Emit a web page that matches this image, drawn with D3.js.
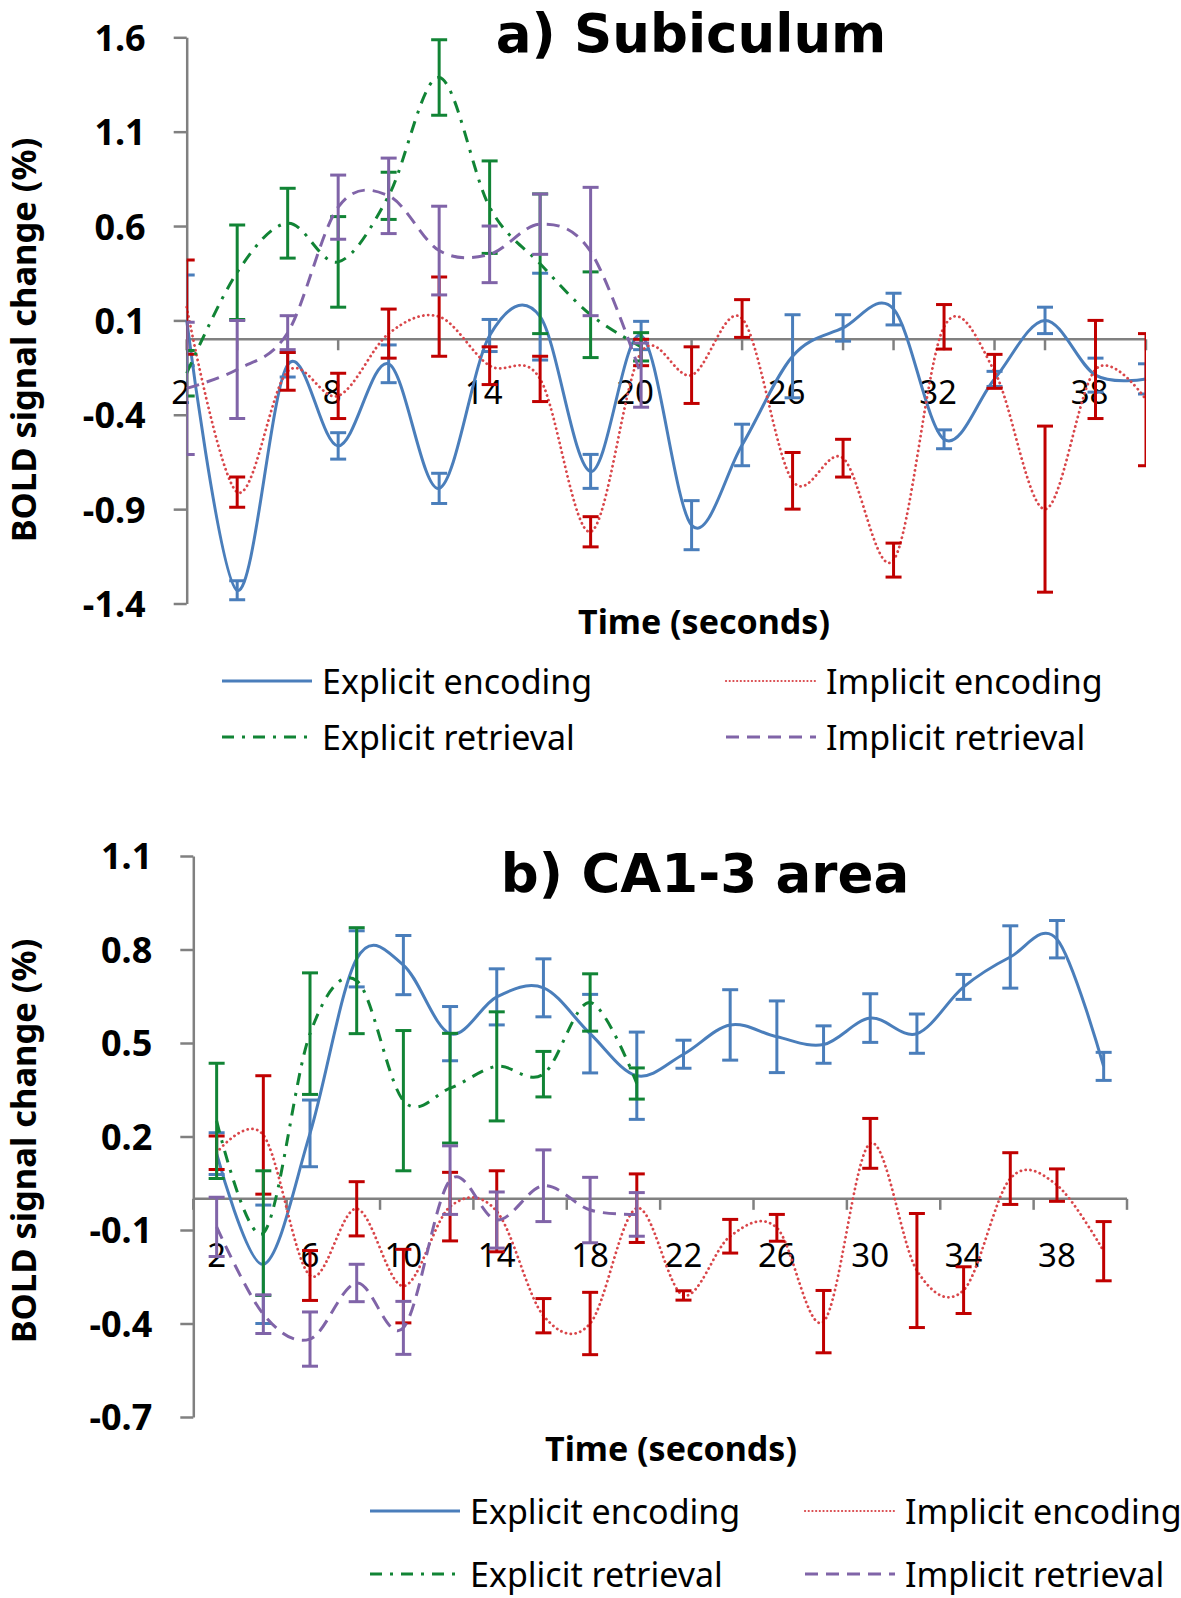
<!DOCTYPE html>
<html><head><meta charset="utf-8">
<script src="https://cdn.jsdelivr.net/npm/d3@7"></script>
<style>
html,body{margin:0;padding:0;background:#fff;}
svg{display:block;font-family:"Noto Sans","Open Sans",sans-serif;}
</style></head>
<body>
<svg id="chart" width="1181" height="1598"></svg>
<script>
// ---------- DATA ----------
const seriesNames = ["Explicit encoding", "Implicit encoding", "Explicit retrieval", "Implicit retrieval"];
const timesLong = [2,4,6,8,10,12,14,16,18,20,22,24,26,28,30,32,34,36,38,40];
const timesShort = [2,4,6,8,10,12,14,16,18,20];

// Panel a) Subiculum
const aTicksY = [-1.4,-0.9,-0.4,0.1,0.6,1.1,1.6];
const aTickLabelsX = [2,8,14,20,26,32,38];
const aExplicitEnc    = [0.10,-1.33,-0.135,-0.565,-0.13,-0.79,0.02,0.12,-0.70,0.02,-0.985,-0.56,-0.09,0.06,0.16,-0.53,-0.21,0.10,-0.19,-0.21];
const aExplicitEncErr = [0.24,0.05,0.065,0.07,0.10,0.08,0.085,0.23,0.09,0.075,0.13,0.11,0.22,0.07,0.084,0.05,0.04,0.07,0.09,0.08];
const aImplicitEnc    = [0.17,-0.81,-0.17,-0.30,0.03,0.12,-0.14,-0.21,-1.02,-0.07,-0.19,0.11,-0.75,-0.63,-1.17,0.066,-0.17,-0.90,-0.16,-0.32];
const aImplicitEncErr = [0.25,0.08,0.10,0.12,0.13,0.21,0.10,0.12,0.08,0.07,0.15,0.10,0.15,0.10,0.09,0.118,0.09,0.44,0.26,0.35];
const aExplicitRet    = [-0.18,0.355,0.615,0.41,0.76,1.387,0.70,0.40,0.13,-0.04];
const aExplicitRetErr = [0.12,0.25,0.185,0.24,0.125,0.2,0.245,0.37,0.227,0.075];
const aImplicitRet    = [-0.26,-0.16,0.035,0.70,0.76,0.47,0.45,0.61,0.465,-0.19];
const aImplicitRetErr = [0.35,0.26,0.09,0.17,0.2,0.235,0.15,0.16,0.34,0.17];

// Panel b) CA1-3 area
const bTicksY = [-0.7,-0.4,-0.1,0.2,0.5,0.8,1.1];
const bTickLabelsX = [2,6,10,14,18,22,26,30,34,38];
const bExplicitEnc    = [0.145,-0.21,0.21,0.77,0.75,0.53,0.648,0.677,0.53,0.395,0.464,0.558,0.52,0.495,0.58,0.53,0.68,0.776,0.833,0.425];
const bExplicitEncErr = [0.067,0.19,0.107,0.09,0.095,0.087,0.09,0.093,0.126,0.14,0.045,0.113,0.115,0.06,0.078,0.063,0.04,0.1,0.06,0.045];
const bImplicitEnc    = [0.148,0.205,-0.246,-0.032,-0.28,-0.025,-0.04,-0.375,-0.40,-0.03,-0.31,-0.12,-0.093,-0.394,0.178,-0.23,-0.293,0.065,0.044,-0.168];
const bImplicitEncErr = [0.054,0.19,0.08,0.087,0.118,0.11,0.13,0.055,0.1,0.11,0.015,0.054,0.043,0.1,0.08,0.183,0.075,0.083,0.052,0.095];
const bExplicitRet    = [0.25,-0.11,0.53,0.70,0.315,0.355,0.425,0.40,0.63,0.37];
const bExplicitRetErr = [0.185,0.2,0.195,0.17,0.225,0.176,0.175,0.073,0.092,0.05];
const bImplicitRet    = [-0.09,-0.37,-0.45,-0.27,-0.414,0.06,-0.068,0.042,-0.036,-0.05];
const bImplicitRetErr = [0.095,0.062,0.087,0.06,0.085,0.11,0.09,0.115,0.105,0.07];

// ---------- STYLE ----------
const styles = [
  {line:"#4A7EBB", bar:"#4A7EBB", dash:null, width:3},
  {line:"#D9464A", bar:"#C00000", dash:"0.1,4.8", width:2.8, round:true},
  {line:"#118435", bar:"#118435", dash:"12,8,3,8", width:3},
  {line:"#8064A8", bar:"#8064A8", dash:"13,8", width:3}
];
const axisColor = "#808080";
const svg = d3.select("#chart");

function drawPanel(p) {
  const g = svg.append("g");
  let x, xPos, step;
  if (p.band) {
    x = d3.scaleBand().domain(timesLong).range([p.x0, p.x1]).padding(0);
    step = x.step();
    xPos = t => x(t) + step / 2;
  } else {
    x = d3.scalePoint().domain(timesLong).range([p.x0, p.x1]);
    step = x.step();
    xPos = t => x(t);
  }
  const y = d3.scaleLinear().domain(p.yDomain).range([p.y1, p.y0]);

  const clipId = "clip" + p.id;
  g.append("clipPath").attr("id", clipId).append("rect")
    .attr("x", p.x0).attr("y", 0).attr("width", p.x1 - p.x0).attr("height", 1598);

  // y axis
  const yAxis = d3.axisLeft(y).tickValues(p.yTicks).tickSize(13).tickSizeOuter(0)
    .tickPadding(28).tickFormat(d => d.toFixed(1));
  const ya = g.append("g").attr("transform", `translate(${p.x0},0)`).call(yAxis);
  ya.select(".domain").attr("stroke", axisColor).attr("stroke-width", 2.5);
  ya.selectAll(".tick line").attr("stroke", axisColor).attr("stroke-width", 2.5);
  ya.selectAll(".tick text").attr("font-family", "Noto Sans").attr("font-weight", "bold")
    .attr("font-size", 36).attr("fill", "#000").attr("dy", "0.36em");

  // x axis line at zero
  g.append("line").attr("x1", p.x0).attr("x2", p.x1).attr("y1", y(0)).attr("y2", y(0))
    .attr("stroke", axisColor).attr("stroke-width", 2.5);
  let tickXs;
  if (p.band) {
    tickXs = timesLong.filter((t, i) => i % 2 === 0).map(t => x(t)).concat([p.x1]);
  } else {
    tickXs = timesLong.map(t => x(t));
  }
  g.selectAll(".xtick").data(tickXs).enter().append("line")
    .attr("x1", d => d).attr("x2", d => d).attr("y1", y(0)).attr("y2", y(0) + 11)
    .attr("stroke", axisColor).attr("stroke-width", 2.5);
  g.selectAll(".xlab").data(p.xLabels).enter().append("text")
    .attr("x", d => xPos(d) + p.labelDx).attr("y", y(0) + p.labelDy)
    .attr("text-anchor", "middle").attr("dominant-baseline", "central")
    .attr("font-size", 33).attr("fill", "#000").text(d => d);

  // series
  const line = d3.line().x(d => xPos(d.t)).y(d => y(d.v)).curve(d3.curveCatmullRom.alpha(0));
  p.series.forEach((s, i) => {
    const st = styles[i];
    const times = s.v.length === 20 ? timesLong : timesShort;
    const pts = times.map((t, k) => ({t: t, v: s.v[k], e: s.e[k]}));
    const path = g.append("path").datum(pts).attr("d", line).attr("fill", "none")
      .attr("stroke", st.line).attr("stroke-width", st.width);
    if (st.dash) path.attr("stroke-dasharray", st.dash);
    if (st.round) path.attr("stroke-linecap", "round");
    const eb = g.append("g").attr("clip-path", `url(#${clipId})`)
      .attr("stroke", st.bar).attr("stroke-width", 3);
    const cw = 8;
    pts.forEach(d => {
      const cx = xPos(d.t);
      eb.append("line").attr("x1", cx).attr("x2", cx).attr("y1", y(d.v + d.e)).attr("y2", y(d.v - d.e));
      eb.append("line").attr("x1", cx - cw).attr("x2", cx + cw).attr("y1", y(d.v + d.e)).attr("y2", y(d.v + d.e));
      eb.append("line").attr("x1", cx - cw).attr("x2", cx + cw).attr("y1", y(d.v - d.e)).attr("y2", y(d.v - d.e));
    });
  });

  // title
  g.append("text").attr("x", p.titleX).attr("y", p.titleY).attr("text-anchor", "middle")
    .attr("font-family", "DejaVu Sans").attr("font-weight", "bold").attr("font-size", 53)
    .attr("fill", "#000").text(p.title);
  // y axis title
  g.append("text").attr("transform", `translate(${p.yTitleX},${p.yTitleY}) rotate(-90)`)
    .attr("text-anchor", "middle").attr("dominant-baseline", "central")
    .attr("font-weight", "bold").attr("font-size", 34.5).attr("fill", "#000")
    .text("BOLD signal change (%)");
  // x axis title
  g.append("text").attr("x", p.xTitleX).attr("y", p.xTitleY).attr("text-anchor", "middle")
    .attr("font-weight", "bold").attr("font-size", 34).attr("fill", "#000").text("Time (seconds)");

  // legend
  const legPos = [
    {x: p.legX1, y: p.legY1}, {x: p.legX2, y: p.legY1},
    {x: p.legX1, y: p.legY2}, {x: p.legX2, y: p.legY2}
  ];
  seriesNames.forEach((name, i) => {
    const st = styles[i];
    const lp = legPos[i];
    const ll = g.append("line").attr("x1", lp.x).attr("x2", lp.x + 90).attr("y1", lp.y).attr("y2", lp.y)
      .attr("stroke", st.line).attr("stroke-width", i === 1 ? 2.2 : st.width);
    if (st.dash) ll.attr("stroke-dasharray", i === 1 ? "0.1,3.6" : st.dash);
    if (st.round) ll.attr("stroke-linecap", "round");
    g.append("text").attr("x", lp.x + 100).attr("y", lp.y).attr("dominant-baseline", "central")
      .attr("font-size", 34).attr("fill", "#000").text(name);
  });
}

drawPanel({
  id: "a", band: false, x0: 186.7, x1: 1146, y0: 37.3, y1: 603.5, yDomain: [-1.4, 1.6],
  yTicks: aTicksY, xLabels: aTickLabelsX, labelDx: -6, labelDy: 52,
  series: [{v: aExplicitEnc, e: aExplicitEncErr}, {v: aImplicitEnc, e: aImplicitEncErr},
           {v: aExplicitRet, e: aExplicitRetErr}, {v: aImplicitRet, e: aImplicitRetErr}],
  title: "a) Subiculum", titleX: 691, titleY: 52,
  yTitleX: 22, yTitleY: 340, xTitleX: 704, xTitleY: 634,
  legX1: 222, legX2: 726, legY1: 681, legY2: 737
});
drawPanel({
  id: "b", band: true, x0: 193.3, x1: 1127, y0: 856, y1: 1417, yDomain: [-0.7, 1.1],
  yTicks: bTicksY, xLabels: bTickLabelsX, labelDx: 0, labelDy: 56,
  series: [{v: bExplicitEnc, e: bExplicitEncErr}, {v: bImplicitEnc, e: bImplicitEncErr},
           {v: bExplicitRet, e: bExplicitRetErr}, {v: bImplicitRet, e: bImplicitRetErr}],
  title: "b) CA1-3 area", titleX: 705, titleY: 892,
  yTitleX: 22, yTitleY: 1141, xTitleX: 671, xTitleY: 1461,
  legX1: 370, legX2: 805, legY1: 1511, legY2: 1574
});
</script>
</body></html>
